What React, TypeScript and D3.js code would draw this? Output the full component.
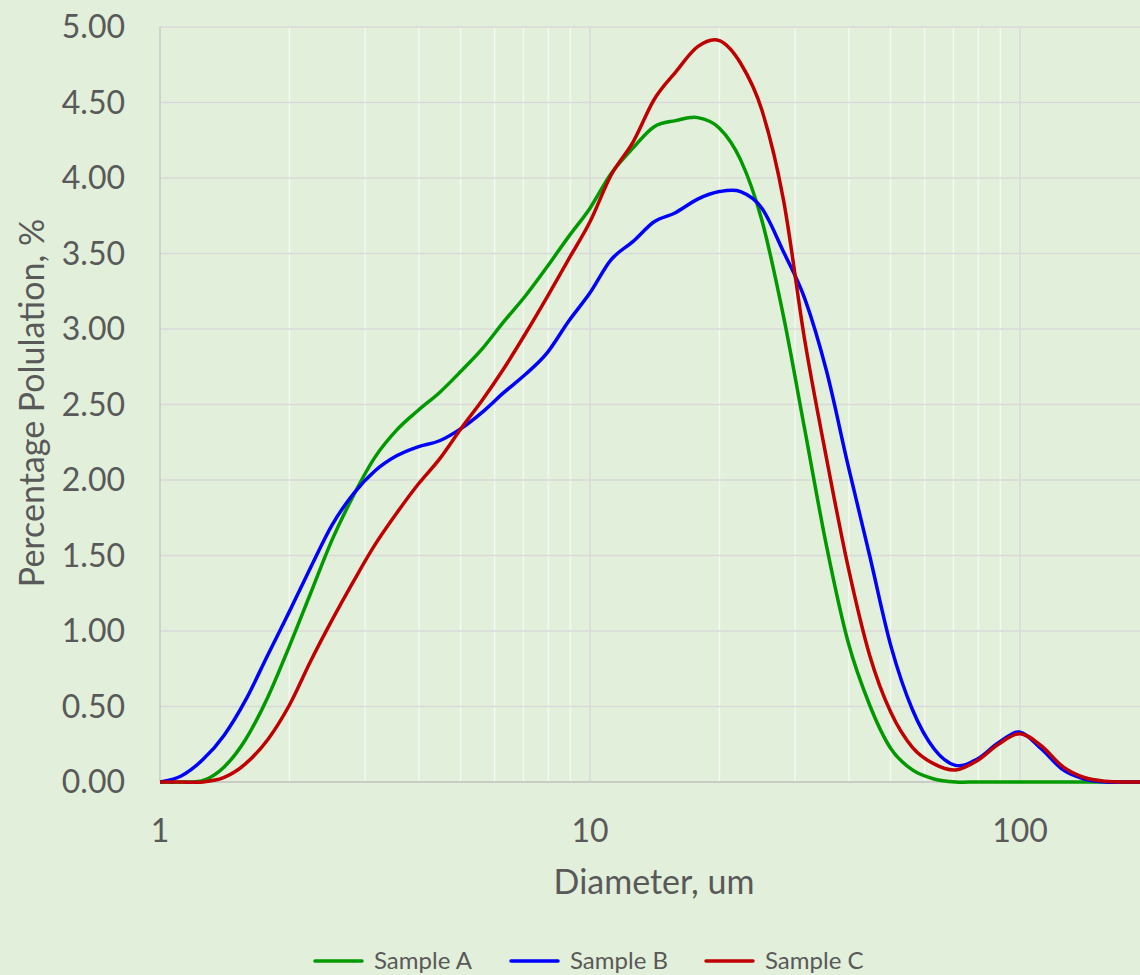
import React, { useRef, useEffect } from 'react';
import * as d3 from 'd3';

// particle diameters, um
const diameters = [
  1.00, 1.12, 1.26, 1.41, 1.58, 1.78, 2.00, 2.24, 2.51, 2.82,
  3.16, 3.55, 3.98, 4.47, 5.01, 5.62, 6.31, 7.08, 7.94, 8.91,
  10.0, 11.2, 12.6, 14.1, 15.8, 17.8, 20.0, 22.4, 25.1, 28.2,
  31.6, 35.5, 39.8, 44.7, 50.1, 56.2, 63.1, 70.8, 79.4, 89.1,
  100, 112, 126, 141, 158, 178, 200,
];

const sampleA = [
  0, 0, 0.01, 0.10, 0.28, 0.56, 0.90, 1.25, 1.60, 1.90,
  2.15, 2.33, 2.46, 2.58, 2.72, 2.87, 3.05, 3.22, 3.41, 3.61,
  3.80, 4.03, 4.20, 4.34, 4.38, 4.40, 4.33, 4.12, 3.72, 3.08,
  2.33, 1.56, 0.93, 0.51, 0.22, 0.08, 0.02, 0, 0, 0,
  0, 0, 0, 0, 0, 0, 0,
];

const sampleB = [
  0, 0.04, 0.15, 0.31, 0.54, 0.84, 1.13, 1.42, 1.70, 1.91,
  2.06, 2.16, 2.22, 2.26, 2.34, 2.45, 2.58, 2.70, 2.84, 3.05,
  3.24, 3.46, 3.58, 3.71, 3.77, 3.86, 3.91, 3.91, 3.80, 3.51,
  3.20, 2.72, 2.10, 1.50, 0.90, 0.48, 0.22, 0.11, 0.15, 0.26,
  0.33, 0.22, 0.08, 0.02, 0, 0, 0,
];

const sampleC = [
  0, 0, 0, 0.03, 0.12, 0.28, 0.51, 0.80, 1.07, 1.33,
  1.57, 1.78, 1.97, 2.14, 2.34, 2.53, 2.74, 2.97, 3.21, 3.46,
  3.71, 4.02, 4.24, 4.52, 4.70, 4.87, 4.91, 4.76, 4.45, 3.85,
  2.92, 2.14, 1.43, 0.84, 0.46, 0.23, 0.12, 0.08, 0.14, 0.25,
  0.32, 0.24, 0.10, 0.03, 0.005, 0, 0,
];

const seriesNames = ['Sample A', 'Sample B', 'Sample C'];
const seriesColors = ['#009a00', '#0000ff', '#c00000'];
const yTicks = [0, 0.5, 1, 1.5, 2, 2.5, 3, 3.5, 4, 4.5, 5];
const xMajor = [1, 10, 100];
const xMinor = [2, 3, 4, 5, 6, 7, 8, 9, 20, 30, 40, 50, 60, 70, 80, 90, 200];

const W = 1140;
const H = 975;
const FONT = 'Lato, "Open Sans", sans-serif';
const TEXT = '#595959';

const Chart = () => {
  const svgRef = useRef(null);

  useEffect(() => {
    const left = 160, top = 27, bottom = 782;
    const x = d3.scaleLog().domain([1, 200]).range([left, left + 430 * Math.log10(200)]);
    const y = d3.scaleLinear().domain([0, 5]).range([bottom, top]);

    const svg = d3.select(svgRef.current).html('');
    svg.append('rect').attr('width', W).attr('height', H).attr('fill', '#e2efda');

    svg.append('clipPath').attr('id', 'plot')
      .append('rect').attr('x', left).attr('y', 0).attr('width', W - left).attr('height', bottom + 4);

    // vertical grid
    svg.append('g').selectAll('line').data(xMinor).enter().append('line')
      .attr('x1', d => x(d)).attr('x2', d => x(d))
      .attr('y1', top).attr('y2', bottom)
      .attr('stroke', '#f4f7f2').attr('stroke-width', 1.5);
    svg.append('g').selectAll('line').data(xMajor.slice(1)).enter().append('line')
      .attr('x1', d => x(d)).attr('x2', d => x(d))
      .attr('y1', top).attr('y2', bottom)
      .attr('stroke', '#d9d9d9').attr('stroke-width', 1.5);

    // horizontal grid
    svg.append('g').selectAll('line').data(yTicks.slice(1)).enter().append('line')
      .attr('x1', left).attr('x2', W)
      .attr('y1', d => y(d)).attr('y2', d => y(d))
      .attr('stroke', '#d9d9d9').attr('stroke-width', 1.5);

    // axes lines
    svg.append('line').attr('x1', left).attr('x2', left).attr('y1', top).attr('y2', bottom)
      .attr('stroke', '#c8c8c8').attr('stroke-width', 1.5);
    svg.append('line').attr('x1', left).attr('x2', W).attr('y1', bottom).attr('y2', bottom)
      .attr('stroke', '#bfbfbf').attr('stroke-width', 1.5);

    // tick labels
    svg.append('g').selectAll('text').data(yTicks).enter().append('text')
      .attr('x', 125).attr('y', d => y(d)).attr('dy', '0.35em')
      .attr('text-anchor', 'end')
      .attr('font-family', FONT).attr('font-size', 32).attr('fill', TEXT)
      .text(d => d3.format('.2f')(d));
    svg.append('g').selectAll('text').data(xMajor).enter().append('text')
      .attr('x', d => x(d)).attr('y', 842)
      .attr('text-anchor', 'middle')
      .attr('font-family', FONT).attr('font-size', 32).attr('fill', TEXT)
      .text(d => d);

    // axis titles
    svg.append('text')
      .attr('x', 654).attr('y', 894).attr('text-anchor', 'middle')
      .attr('font-family', FONT).attr('font-size', 34).attr('fill', TEXT)
      .text('Diameter, um');
    svg.append('text')
      .attr('transform', 'translate(44,403) rotate(-90)').attr('text-anchor', 'middle')
      .attr('font-family', FONT).attr('font-size', 34).attr('fill', TEXT)
      .text('Percentage Polulation, %');

    // lines
    const line = d3.line<number>()
      .x((_, i) => x(diameters[i]))
      .y(d => y(d))
      .curve(d3.curveCatmullRom.alpha(0));
    [sampleA, sampleB, sampleC].forEach((s, k) => {
      svg.append('path')
        .attr('d', line(s))
        .attr('clip-path', 'url(#plot)')
        .attr('fill', 'none')
        .attr('stroke', seriesColors[k])
        .attr('stroke-width', 3.5)
        .attr('stroke-linejoin', 'round');
    });

    // legend
    const legendX = [315, 511, 706];
    const lg = svg.append('g').selectAll('g').data(seriesNames).enter().append('g')
      .attr('transform', (_, i) => `translate(${legendX[i]},961)`);
    lg.append('line').attr('x1', 0).attr('x2', 47).attr('y1', 0).attr('y2', 0)
      .attr('stroke', (_, i) => seriesColors[i]).attr('stroke-width', 3.5)
      .attr('stroke-linecap', 'round');
    lg.append('text').attr('x', 59).attr('dy', '0.33em')
      .attr('font-family', FONT).attr('font-size', 24).attr('fill', TEXT)
      .text(d => d);
  }, []);

  return <svg ref={svgRef} width={W} height={H} style={{ position: 'absolute', left: 0, top: 0 }} />;
};

export default function App() {
  return <Chart />;
}
